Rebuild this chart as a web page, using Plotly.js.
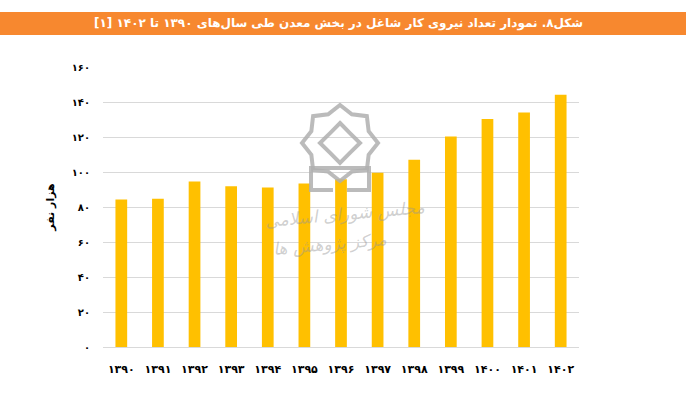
<!DOCTYPE html>
<html>
<head>
<meta charset="utf-8">
<script src="https://cdn.plot.ly/plotly-3.0.1.min.js"></script>
<style>
html,body{margin:0;padding:0;background:#fff;}
#chart{width:686px;height:409px;}
</style>
</head>
<body>
<div id="chart"></div>
<script>
// Data
const years = ['۱۳۹۰','۱۳۹۱','۱۳۹۲','۱۳۹۳','۱۳۹۴','۱۳۹۵','۱۳۹۶','۱۳۹۷','۱۳۹۸','۱۳۹۹','۱۴۰۰','۱۴۰۱','۱۴۰۲'];
const workers = [84.3, 84.7, 94.6, 91.8, 91.2, 93.5, 95.8, 99.6, 107, 120.3, 130.3, 134, 144.2];
const yTickVals = [0, 20, 40, 60, 80, 100, 120, 140, 160];
const yTickText = ['۰','۲۰','۴۰','۶۰','۸۰','۱۰۰','۱۲۰','۱۴۰','۱۶۰'];
const titleText = 'شکل۸. نمودار تعداد نیروی کار شاغل در بخش معدن طی سال‌های ۱۳۹۰ تا ۱۴۰۲ [۱]';
const yTitle = 'هزار نفر';
const wmLine1 = 'مجلس شورای اسلامی';
const wmLine2 = 'مرکز پژوهش ها';

const font = 'DejaVu Sans, Noto Sans, sans-serif';

// layout geometry helpers (pixel -> paper)
const M = {l: 103, r: 107, t: 67, b: 62};
const W = 686, H = 409;
const pw = W - M.l - M.r, ph = H - M.t - M.b;
const fx = p => (p - M.l) / pw;
const fy = p => (H - M.b - p) / ph;

// watermark logo outline (rosette + base), drawn as a path in paper coords
function rosettePath(cx, cy, ro, ri, n) {
  let d = '';
  for (let i = 0; i < 2 * n; i++) {
    const a = Math.PI * i / n - Math.PI / 2;
    const r = i % 2 === 0 ? ro : ri;
    const x = fx(cx + r * Math.cos(a)), y = fy(cy + r * Math.sin(a));
    d += (i === 0 ? 'M' : 'L') + x.toFixed(4) + ',' + y.toFixed(4) + ' ';
  }
  return d + 'Z';
}
function polyPath(pts, close) {
  return pts.map((p, i) => (i === 0 ? 'M' : 'L') + fx(p[0]).toFixed(4) + ',' + fy(p[1]).toFixed(4)).join(' ') + (close ? ' Z' : '');
}
const wmColor = 'rgba(175,175,175,0.85)';

const trace = {
  type: 'bar',
  x: years,
  y: workers,
  marker: {color: '#FFC000'},
  hoverinfo: 'x+y'
};

const layout = {
  width: W,
  height: H,
  margin: M,
  paper_bgcolor: '#ffffff',
  plot_bgcolor: '#ffffff',
  bargap: 0.68,
  showlegend: false,
  font: {family: font, color: '#000'},
  xaxis: {
    type: 'category',
    tickfont: {family: font, size: 11, color: '#000', weight: 'bold'},
    showgrid: false,
    showline: true,
    linecolor: '#d9d9d9',
    linewidth: 1,
    ticks: '',
    ticklabelstandoff: 12
  },
  yaxis: {
    range: [0, 160],
    tickvals: yTickVals,
    ticktext: yTickText,
    tickfont: {family: font, size: 10, color: '#000', weight: 'bold'},
    showgrid: true,
    gridcolor: '#d9d9d9',
    gridwidth: 1,
    zeroline: false,
    showline: false,
    ticks: '',
    ticklabelstandoff: 12,
    title: {text: yTitle, font: {family: font, size: 11, color: '#000', weight: 'bold'}, standoff: 14}
  },
  shapes: [
    {type: 'rect', xref: 'paper', yref: 'paper', x0: fx(-5), x1: fx(W + 5), y0: fy(35), y1: fy(12),
     fillcolor: '#F7882F', line: {width: 0}, layer: 'above'},
    {type: 'path', xref: 'paper', yref: 'paper', path: rosettePath(340, 143, 38, 31, 8),
     line: {color: wmColor, width: 4}, layer: 'above'},
    {type: 'path', xref: 'paper', yref: 'paper', path: rosettePath(340, 143, 20, 14, 4),
     line: {color: wmColor, width: 4}, layer: 'above'},
    {type: 'path', xref: 'paper', yref: 'paper',
     path: polyPath([[333, 190], [311, 190], [311, 168], [369, 168], [369, 190], [347, 190]], false),
     line: {color: wmColor, width: 4}, layer: 'above'}
  ],
  annotations: [
    {xref: 'paper', yref: 'paper', x: fx(338), y: fy(23.5), text: titleText, showarrow: false,
     font: {family: font, size: 12, color: '#ffffff', weight: 'bold'}, xanchor: 'center', yanchor: 'middle'},
    {xref: 'paper', yref: 'paper', x: fx(345), y: fy(214), text: wmLine1, showarrow: false, textangle: -5,
     font: {family: font, size: 17, color: 'rgba(150,150,150,0.45)', style: 'italic'}},
    {xref: 'paper', yref: 'paper', x: fx(330), y: fy(262), text: wmLine2, showarrow: false, textangle: -5,
     font: {family: font, size: 17, color: 'rgba(150,150,150,0.45)', style: 'italic'}}
  ]
};

Plotly.newPlot('chart', [trace], layout, {displayModeBar: false, staticPlot: true});
</script>
</body>
</html>
